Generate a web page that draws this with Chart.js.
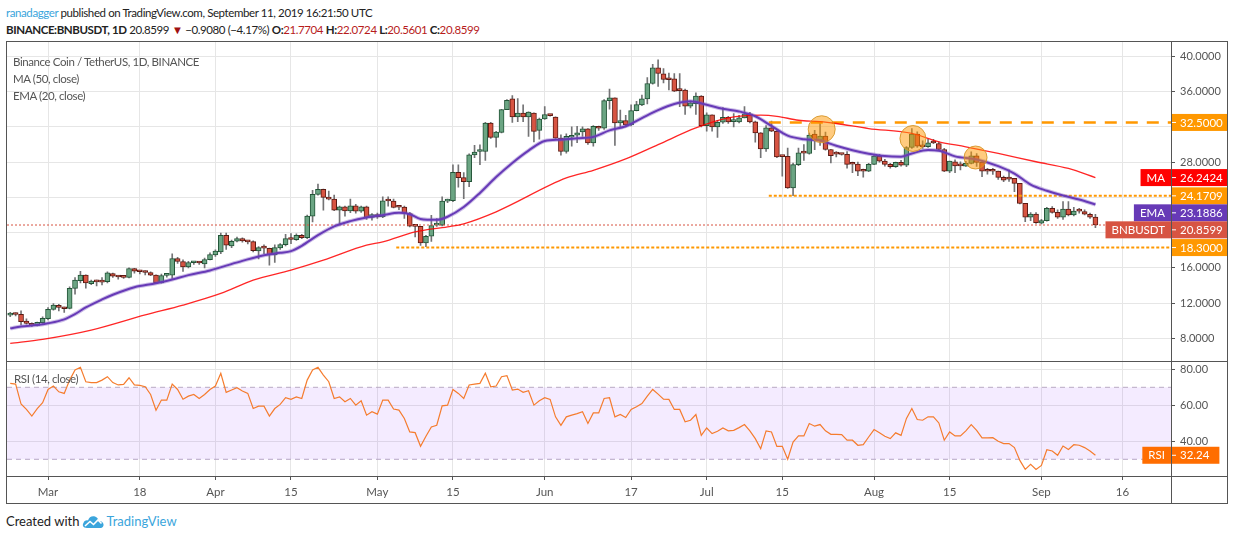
<!DOCTYPE html>
<html>
<head>
<meta charset="utf-8">
<script src="https://cdn.jsdelivr.net/npm/chart.js@4.4.0/dist/chart.umd.min.js"></script>
<style>
  html, body { margin: 0; padding: 0; background: #fff; }
  body { width: 1234px; height: 540px; position: relative; overflow: hidden; font-family: Lato, "Noto Sans", sans-serif; }
  .narrow { font-size: 11.5px !important; letter-spacing: -0.4px; }
  .line { position: absolute; left: 6px; font-size: 13px; line-height: 17px; white-space: nowrap; color: #222; }
  .user { color: #3ba5dc; }
  .red { color: #b71c1c; }
  .tri { color: #a01010; }
  .frame { position: absolute; left: 6px; top: 41px; width: 1220px; height: 461px; border: 1px solid #555; }
  .frame canvas { position: absolute; left: 0; top: 0; }
  .legend { position: absolute; left: 6px; line-height: 17px; color: #555; white-space: nowrap; }
  .tv { color: #3ba5dc; }
  .logo { display: inline-block; vertical-align: -3px; margin: 0 1px 0 2px; }
</style>
</head>
<body>
<div class="line narrow" style="top:4px"><span class="user">ranadagger</span> published on TradingView.com, September 11, 2019 16:21:50 UTC</div>
<div class="line narrow" style="top:21px"><b>BINANCE:BNBUSDT, 1D</b> 20.8599 <span class="tri">&#9660;</span> &minus;0.9080 (&minus;4.17%) <b>O:</b><span class="red">21.7704</span> <b>H:</b><span class="red">22.0724</span> <b>L:</b><span class="red">20.5601</span> <b>C:</b><span class="red">20.8599</span></div>

<div class="frame">
  <canvas id="chart" width="1220" height="461"></canvas>
  <div class="legend narrow" style="top:11px">Binance Coin / TetherUS, 1D, BINANCE</div>
  <div class="legend narrow" style="top:28px">MA (50, close)</div>
  <div class="legend narrow" style="top:45px">EMA (20, close)</div>
  <div class="legend narrow" style="top:328px;left:7px">RSI (14, close)</div>
</div>

<div class="line" style="top:513px">Created with<svg class="logo" width="24" height="15" viewBox="0 0 24 15"><path d="M6 14 C2 14 1 11 2.5 9 C3 7 5 6 7 6.5 C8 3 11 1.5 14 2.5 C16 3 17.5 5 17.5 7 C20 6.5 23 8.5 22.5 11.5 C22 13.5 20.5 14 19 14 Z" fill="#3ba5dc"/><path d="M4 12 L9 7.5 L12.5 10.5 L17 6 L20.5 9.5" stroke="#fff" stroke-width="1.6" fill="none"/></svg><span class="tv">TradingView</span></div>

<script>
// days are counted from 1 March 2019, first candle is 22 Feb
const firstDay = -7;

const openPx = [
  10.64, 10.75, 10.72, 9.96, 9.70, 9.47, 9.77, 10.23, 11.28, 11.74,
  11.51, 11.40, 13.66, 14.53, 15.17, 14.19, 14.45, 14.45, 14.42, 15.36,
  15.00, 14.93, 14.91, 15.92, 15.58, 15.50, 15.47, 15.17, 14.30, 15.15,
  15.17, 17.06, 16.72, 16.11, 16.58, 16.58, 16.45, 16.94, 17.47, 17.81,
  19.70, 18.49, 19.02, 19.32, 18.98, 18.98, 17.92, 18.26, 18.20, 17.47,
  18.26, 18.64, 19.28, 19.20, 19.70, 19.43, 21.86, 24.33, 24.90, 23.99,
  23.80, 22.55, 22.93, 22.47, 23.04, 22.43, 22.93, 21.71, 22.05, 21.79,
  23.61, 23.58, 22.90, 22.90, 22.17, 20.72, 20.72, 18.82, 19.58, 20.85,
  20.84, 23.57, 23.61, 26.84, 26.24, 25.78, 28.82, 29.20, 29.20, 32.43,
  30.80, 31.37, 33.95, 35.17, 33.12, 33.57, 33.12, 33.57, 31.60, 32.89,
  33.30, 33.12, 30.72, 29.20, 30.82, 31.05, 31.42, 31.77, 30.17, 32.07,
  31.84, 34.98, 35.29, 32.45, 32.71, 32.22, 33.85, 34.49, 35.17, 36.92,
  38.70, 38.02, 37.37, 37.45, 36.16, 36.16, 34.34, 34.64, 35.48, 32.14,
  33.36, 31.99, 32.52, 33.09, 32.60, 32.56, 33.02, 33.47, 32.56, 31.31,
  29.49, 31.88, 31.50, 28.66, 28.66, 25.06, 27.71, 29.04, 28.98, 31.17,
  30.49, 30.94, 29.43, 28.92, 28.88, 28.87, 27.78, 27.78, 26.98, 26.98,
  27.74, 28.68, 28.11, 27.74, 27.47, 27.96, 27.66, 29.66, 31.17, 29.74,
  29.74, 30.19, 30.11, 29.43, 26.98, 28.04, 27.60, 27.55, 27.85, 28.72,
  27.96, 26.98, 26.98, 26.98, 26.26, 26.10, 26.15, 25.58, 23.32, 21.74,
  22.11, 21.06, 21.36, 22.75, 22.30, 21.74, 22.68, 22.00, 22.45, 22.38,
  22.08, 21.7704
];
const highPx = [
  10.95, 10.90, 11.13, 10.20, 9.75, 9.85, 10.45, 11.50, 11.95, 11.85,
  11.55, 13.85, 14.90, 15.60, 15.20, 14.60, 14.60, 14.90, 15.55, 15.40,
  15.10, 15.00, 16.00, 15.95, 15.70, 15.65, 15.55, 15.20, 15.30, 15.30,
  17.60, 17.20, 16.90, 16.75, 16.75, 16.70, 17.10, 17.70, 18.05, 19.95,
  19.95, 19.15, 19.50, 19.40, 19.10, 19.05, 18.40, 18.60, 18.25, 18.60,
  18.75, 19.80, 19.90, 19.85, 19.80, 21.98, 24.80, 25.50, 24.95, 24.70,
  24.25, 23.00, 23.00, 23.80, 23.20, 23.00, 23.00, 22.15, 22.20, 24.05,
  24.05, 23.80, 23.05, 23.00, 22.30, 20.75, 20.72, 19.70, 21.95, 21.60,
  24.05, 23.80, 27.70, 27.70, 26.80, 28.95, 29.90, 29.95, 32.50, 32.50,
  31.50, 34.00, 35.10, 35.55, 35.20, 34.50, 33.70, 33.60, 33.00, 34.30,
  33.40, 33.15, 31.10, 31.20, 32.00, 32.05, 32.00, 31.80, 32.15, 32.10,
  35.10, 36.30, 35.30, 33.90, 33.30, 34.50, 34.90, 35.60, 37.60, 39.10,
  39.60, 38.60, 38.10, 38.05, 38.05, 36.30, 34.90, 35.85, 35.55, 33.60,
  33.36, 32.75, 34.20, 33.20, 33.50, 33.30, 34.30, 33.66, 32.65, 31.35,
  32.14, 32.65, 31.60, 28.70, 29.60, 27.90, 29.60, 29.98, 31.30, 31.60,
  32.50, 31.40, 29.45, 29.20, 28.95, 29.20, 28.00, 28.00, 27.20, 27.85,
  28.80, 28.87, 28.30, 27.85, 28.00, 28.20, 29.75, 31.80, 31.43, 30.40,
  30.57, 30.57, 30.30, 29.55, 28.11, 28.26, 28.04, 28.10, 29.17, 28.98,
  28.00, 27.28, 27.28, 26.98, 26.40, 27.13, 26.15, 25.58, 23.32, 22.26,
  22.26, 21.51, 22.87, 22.94, 22.57, 23.51, 23.51, 22.87, 22.75, 22.57,
  22.20, 22.0724
];
const lowPx = [
  10.45, 10.55, 9.51, 9.60, 9.35, 9.40, 9.70, 10.10, 11.20, 11.10,
  10.95, 11.35, 13.00, 14.30, 13.70, 14.10, 13.95, 14.05, 14.30, 14.90,
  14.70, 14.80, 14.85, 15.40, 15.30, 15.20, 15.10, 14.20, 14.25, 14.95,
  14.80, 16.50, 15.60, 16.00, 16.40, 16.40, 16.00, 16.90, 17.30, 17.60,
  18.10, 18.30, 18.95, 18.90, 18.70, 17.80, 17.00, 17.60, 16.30, 16.60,
  18.10, 18.50, 18.75, 19.10, 19.30, 19.30, 21.20, 24.25, 22.55, 23.70,
  22.50, 21.00, 21.85, 22.25, 22.20, 22.30, 21.50, 21.40, 21.60, 21.70,
  23.00, 22.80, 22.60, 21.60, 20.65, 19.50, 18.55, 18.40, 19.00, 20.70,
  20.75, 23.40, 23.50, 25.15, 23.85, 25.20, 28.50, 27.70, 28.20, 30.70,
  29.70, 31.30, 33.95, 32.50, 32.60, 32.60, 30.90, 30.30, 30.60, 32.85,
  33.20, 30.70, 28.80, 29.00, 29.80, 30.20, 30.90, 30.00, 29.80, 31.60,
  31.70, 34.00, 29.90, 31.90, 32.00, 32.10, 33.80, 34.40, 34.60, 36.85,
  36.60, 37.00, 36.20, 36.00, 34.30, 33.40, 34.15, 33.40, 32.00, 31.50,
  31.50, 30.80, 32.40, 32.40, 32.00, 32.45, 33.00, 32.45, 30.26, 28.50,
  29.20, 31.45, 28.50, 26.40, 25.00, 24.20, 27.60, 28.20, 28.90, 29.40,
  29.90, 29.36, 27.90, 28.60, 28.80, 27.30, 26.80, 26.45, 26.30, 26.90,
  27.70, 28.00, 27.55, 27.30, 27.40, 27.55, 27.47, 29.55, 29.66, 29.55,
  29.66, 30.10, 29.36, 26.90, 26.80, 26.80, 27.10, 27.50, 27.80, 27.50,
  26.34, 26.64, 26.60, 26.04, 25.77, 25.80, 24.64, 23.25, 21.25, 21.36,
  21.05, 20.98, 21.30, 22.20, 21.60, 21.50, 21.90, 21.90, 22.20, 22.00,
  21.60, 20.5601
];
const closePx = [
  10.72, 10.70, 9.89, 9.70, 9.47, 9.81, 10.26, 11.28, 11.77, 11.51,
  11.36, 13.66, 14.60, 15.17, 14.30, 14.49, 14.40, 14.38, 15.43, 15.06,
  14.96, 14.91, 15.92, 15.62, 15.55, 15.47, 15.17, 14.30, 15.13, 15.17,
  17.06, 16.72, 16.11, 16.60, 16.60, 16.55, 16.94, 17.51, 17.89, 19.70,
  18.57, 19.02, 19.32, 19.06, 18.95, 17.96, 18.30, 18.24, 17.47, 18.30,
  18.64, 19.32, 19.22, 19.70, 19.43, 21.86, 24.33, 24.90, 23.99, 23.80,
  22.55, 22.93, 22.47, 23.04, 22.43, 22.93, 21.71, 22.05, 21.79, 23.61,
  23.58, 22.85, 22.88, 22.17, 20.72, 20.70, 18.82, 19.58, 20.80, 20.91,
  23.57, 23.61, 26.84, 26.24, 25.78, 28.82, 29.13, 29.24, 32.43, 30.80,
  31.41, 33.95, 35.02, 33.12, 33.57, 33.12, 33.69, 31.48, 32.89, 33.38,
  33.28, 30.72, 29.20, 30.91, 31.05, 31.31, 31.77, 30.17, 32.07, 31.84,
  34.98, 35.29, 32.45, 32.71, 32.22, 33.85, 34.53, 35.17, 36.92, 38.70,
  38.05, 37.37, 37.35, 36.05, 36.12, 34.34, 34.72, 35.48, 32.14, 33.36,
  31.99, 32.52, 33.09, 32.56, 32.63, 33.02, 33.47, 32.56, 31.31, 29.49,
  31.88, 31.50, 28.58, 28.62, 25.06, 27.71, 29.04, 29.02, 31.06, 30.49,
  30.94, 29.43, 28.72, 28.90, 28.86, 27.74, 27.76, 26.98, 26.96, 27.74,
  28.68, 28.11, 27.74, 27.47, 27.96, 27.66, 29.66, 31.17, 29.81, 29.72,
  30.19, 30.17, 29.43, 26.98, 28.11, 27.58, 27.58, 27.85, 28.72, 27.96,
  26.98, 26.96, 26.96, 26.26, 25.96, 26.06, 25.58, 23.32, 21.74, 22.11,
  21.13, 21.36, 22.75, 22.30, 21.74, 22.68, 22.00, 22.45, 22.43, 22.08,
  21.74, 20.8599
];

// MA(50) and EMA(20) at these days
const maDays = [-7, -1, 8, 18, 25, 32, 38, 45, 51, 59, 62, 68, 74, 77, 83, 96, 101, 107, 113, 120, 126, 132, 135, 139, 143, 146, 152, 160, 165, 170, 176, 183, 189, 194];
const maValues = [7.43, 7.89, 8.94, 10.66, 11.77, 13.09, 14.6, 15.74, 16.87, 18.57, 18.94, 20.08, 20.65, 21.0, 22.36, 26.2, 27.07, 28.36, 29.98, 31.88, 33.02, 33.32, 33.2, 32.75, 32.6, 32.38, 31.81, 31.25, 30.3, 29.74, 28.98, 28.04, 27.28, 26.2424];
const emaDays = [-7, -5, -2, 0, 3, 5, 7, 10, 12, 16, 20, 23, 26, 30, 33, 36, 40, 43, 45, 47, 50, 53, 56, 59, 62, 65, 67, 69, 72, 74, 77, 80, 83, 86, 89, 92, 95, 98, 101, 104, 107, 110, 113, 116, 119, 122, 125, 128, 131, 134, 137, 140, 143, 146, 149, 152, 155, 158, 160, 163, 165, 168, 172, 176, 179, 182, 185, 188, 191, 194];
const emaValues = [9.13, 9.35, 9.51, 9.70, 10.15, 10.75, 11.5, 12.41, 12.95, 13.8, 14.25, 14.68, 15.17, 15.7, 16.25, 16.79, 17.43, 17.7, 17.9, 18.5, 19.7, 20.7, 21.3, 21.71, 21.98, 22.24, 22.09, 21.55, 21.45, 21.8, 22.9, 24.5, 26.3, 27.9, 29.3, 30.4, 30.55, 30.7, 30.86, 31.6, 32.07, 33.0, 33.9, 34.6, 34.9, 34.5, 34.05, 33.75, 33.2, 32.1, 31.0, 30.6, 30.45, 29.85, 29.35, 28.95, 28.68, 28.62, 28.98, 29.36, 29.3, 28.65, 28.3, 27.55, 26.7, 25.45, 24.75, 24.2, 23.75, 23.1886];

// RSI(14), one value per candle
const rsiValues = [
  72.2, 71.8, 60.7, 57.7, 54.0, 58.2, 61.4,
  68.8, 70.7, 67.5, 66.6, 74.0, 79.6, 81.1, 73.1, 72.6, 72.6,
  74.0, 75.9, 72.6, 71.3, 71.6, 75.3, 71.3, 71.1, 70.3, 66.0,
  57.3, 62.9, 62.9, 71.8, 68.8, 63.4, 65.1, 66.0, 63.8, 66.0,
  68.8, 70.7, 77.8, 67.2, 68.5, 69.8, 67.9, 66.6, 58.2, 59.5,
  59.5, 54.0, 58.2, 60.5, 64.2, 63.3, 64.7, 63.8, 74.0, 79.6,
  81.1, 76.8, 73.1, 63.8, 64.7, 62.0, 63.8, 60.1, 62.5, 54.5,
  56.4, 55.1, 62.9, 62.9, 57.9, 57.3, 52.7, 45.2, 44.8, 37.2,
  42.8, 48.0, 48.9, 59.7, 60.1, 68.8, 66.6, 63.8, 71.3, 71.8,
  72.2, 77.8, 70.3, 70.7, 75.9, 76.5, 68.5, 69.0, 67.2, 68.1,
  60.1, 62.5, 64.2, 63.3, 53.6,
  48.9, 53.6, 54.5, 55.4, 56.4,
  49.9, 55.8, 55.8, 63.8, 64.2, 53.6, 54.9, 53.2, 57.7, 59.2,
  61.0, 65.1, 68.8, 66.2, 63.4, 63.3, 57.7, 57.7, 50.8, 51.7,
  54.9, 43.3, 47.4, 44.3, 45.6, 47.4, 45.8, 46.1, 47.6, 49.3,
  45.8, 41.5, 35.9, 45.8, 45.2, 37.2, 37.2, 30.0, 39.6, 43.0,
  43.0, 49.9, 48.4, 49.3, 45.8, 43.9, 43.9, 43.7, 40.6, 40.6,
  37.8, 38.1, 42.4, 46.5, 44.7, 42.8, 41.5, 44.7, 43.3, 52.7,
  58.2, 52.1, 51.7, 53.6, 53.6, 50.2, 40.6, 45.2, 43.0, 43.0,
  45.8, 49.3, 46.1, 41.9, 41.9, 42.0, 40.0, 38.7, 38.7, 36.5,
  29.4, 24.4, 27.2, 24.4, 26.6, 35.3, 34.6, 32.2, 37.4, 35.5,
  38.1, 37.8, 36.5, 34.6, 32.24
];
const rsiLevels = [70, 30];

// drawn support / resistance lines and the marked tops
const levelValues = [32.5, 24.1709, 18.3];
const levelFromDays = [133.5, 133.5, 64.5];
const markDays = [143.3, 160.2, 171.8];
const markPrices = [31.73, 30.68, 28.52];

const tickDays = [0, 17, 31, 45, 61, 75, 92, 108, 122, 136, 153, 167, 184, 199];
const tickLabels = ['Mar', '18', 'Apr', '15', 'May', '15', 'Jun', '17', 'Jul', '15', 'Aug', '15', 'Sep', '16'];
const priceTicks = [8, 12, 16, 20, 24, 28, 32, 36, 40];
const rsiTicks = [40, 60, 80];

const xMin = -7.6, xMax = 208;
const UP = '#6ba583', DOWN = '#d75442', UP_EDGE = '#225437', DOWN_EDGE = '#5b1a13';
const FONT = 'Lato, "Noto Sans", sans-serif';

const days = openPx.map((_, i) => firstDay + i);
const isUp = days.map((_, i) => closePx[i] >= openPx[i]);
const lastClose = closePx[closePx.length - 1];

const priceBadges = [
  { name: '', value: levelValues[0], color: '#ff9800' },
  { name: 'MA', value: maValues[maValues.length - 1], color: '#ff0000' },
  { name: '', value: levelValues[1], color: '#ff9800' },
  { name: 'EMA', value: emaValues[emaValues.length - 1], color: '#673ab7' },
  { name: 'BNBUSDT', value: lastClose, color: '#d75442' },
  { name: '', value: levelValues[2], color: '#ff9800' }
];
const rsiBadge = { name: 'RSI', value: rsiValues[rsiValues.length - 1], color: '#ff6d00' };

function hline(value, from, opts) {
  return Object.assign({
    type: 'line',
    data: [{ x: from, y: value }, { x: xMax, y: value }],
    pointRadius: 0,
    borderWidth: 1,
    yAxisID: 'y',
    order: 3
  }, opts);
}

function drawBadge(ctx, axisX, top, h, b, digits) {
  const txt = b.value.toFixed(digits);
  const tw = ctx.measureText(txt).width;
  const bw = Math.min(55, tw + 18);
  ctx.fillStyle = b.color;
  ctx.fillRect(axisX + 1, top, bw, h);
  ctx.fillStyle = '#fff';
  ctx.fillRect(axisX + 1, top + h / 2 - 0.5, 4, 1);
  ctx.textAlign = 'left';
  ctx.fillText(txt, axisX + 9, top + h / 2 + 0.5);
  if (b.name) {
    const nw = ctx.measureText(b.name).width + 12;
    ctx.fillStyle = b.color;
    ctx.fillRect(axisX - nw, top, nw, h);
    ctx.fillStyle = '#fff';
    ctx.textAlign = 'center';
    ctx.fillText(b.name, axisX - nw / 2, top + h / 2 + 0.5);
  }
}

const panes = {
  id: 'panes',
  afterDraw(chart) {
    const ctx = chart.ctx, a = chart.chartArea;
    const rsiScale = chart.scales.rsi, yScale = chart.scales.y;
    ctx.save();
    ctx.strokeStyle = '#555';
    ctx.lineWidth = 1;
    ctx.beginPath();
    ctx.moveTo(0, Math.round(rsiScale.top) + 0.5);
    ctx.lineTo(chart.width, Math.round(rsiScale.top) + 0.5);
    ctx.moveTo(0, Math.round(a.bottom) + 0.5);
    ctx.lineTo(chart.width, Math.round(a.bottom) + 0.5);
    ctx.moveTo(Math.round(a.right) + 0.5, 0);
    ctx.lineTo(Math.round(a.right) + 0.5, chart.height);
    ctx.stroke();

    ctx.font = '11.5px ' + FONT;
    ctx.textBaseline = 'middle';
    const h = 17;
    const list = priceBadges.map(b => Object.assign({ py: yScale.getPixelForValue(b.value) }, b));
    list.sort((p, q) => p.py - q.py);
    let prevBottom = -1e9;
    list.forEach(b => {
      let top = b.py - h / 2;
      if (top < prevBottom) top = prevBottom;
      prevBottom = top + h;
      drawBadge(ctx, a.right, top, h, b, 4);
    });
    drawBadge(ctx, a.right, rsiScale.getPixelForValue(rsiBadge.value) - h / 2, h, rsiBadge, 2);
    ctx.restore();
  }
};

Chart.defaults.font.family = FONT;
Chart.defaults.font.size = 11;
Chart.defaults.color = '#4a4a4a';

new Chart(document.getElementById('chart'), {
  type: 'bar',
  data: {
    datasets: [
      {
        type: 'bar',
        data: days.map((d, i) => ({ x: d, y: [lowPx[i], highPx[i]] })),
        backgroundColor: '#737375',
        barThickness: 1,
        grouped: false,
        yAxisID: 'y',
        order: 6
      },
      {
        type: 'bar',
        data: days.map((d, i) => ({ x: d, y: [openPx[i], closePx[i]] })),
        backgroundColor: isUp.map(u => u ? UP : DOWN),
        borderColor: isUp.map(u => u ? UP_EDGE : DOWN_EDGE),
        borderWidth: 1,
        borderSkipped: false,
        barThickness: 5,
        minBarLength: 2,
        grouped: false,
        yAxisID: 'y',
        order: 5
      },
      hline(lastClose, xMin, { borderColor: '#d75442', borderDash: [2, 2] }),
      hline(levelValues[0], levelFromDays[0], { borderColor: '#ff9800', borderWidth: 2.5, borderDash: [12, 9] }),
      hline(levelValues[1], levelFromDays[1], { borderColor: '#ff9800', borderWidth: 2, borderDash: [3, 2] }),
      hline(levelValues[2], levelFromDays[2], { borderColor: '#ff9800', borderWidth: 2, borderDash: [3, 2] }),
      {
        type: 'line',
        data: maDays.map((d, i) => ({ x: d, y: maValues[i] })),
        borderColor: 'rgba(255, 0, 0, 0.85)',
        borderWidth: 1.3,
        pointRadius: 0,
        cubicInterpolationMode: 'monotone',
        yAxisID: 'y',
        order: 2
      },
      {
        type: 'line',
        data: emaDays.map((d, i) => ({ x: d, y: emaValues[i] })),
        borderColor: 'rgba(126, 87, 194, 0.4)',
        borderWidth: 4,
        pointRadius: 0,
        cubicInterpolationMode: 'monotone',
        yAxisID: 'y',
        order: 2
      },
      {
        type: 'line',
        data: emaDays.map((d, i) => ({ x: d, y: emaValues[i] })),
        borderColor: '#673ab7',
        borderWidth: 2,
        pointRadius: 0,
        cubicInterpolationMode: 'monotone',
        yAxisID: 'y',
        order: 1
      },
      {
        type: 'line',
        data: markDays.map((d, i) => ({ x: d, y: markPrices[i] })),
        showLine: false,
        pointRadius: [13.5, 13, 11.5],
        pointBackgroundColor: 'rgba(255, 152, 0, 0.5)',
        pointBorderColor: 'rgba(214, 150, 40, 0.9)',
        pointBorderWidth: 1,
        yAxisID: 'y',
        order: 0
      },
      {
        type: 'line',
        data: [{ x: xMin, y: rsiLevels[0] }, { x: xMax, y: rsiLevels[0] }],
        borderColor: '#b8aac4',
        borderWidth: 1,
        borderDash: [5, 4],
        pointRadius: 0,
        fill: { value: rsiLevels[1] },
        backgroundColor: 'rgba(152, 60, 255, 0.1)',
        yAxisID: 'rsi',
        order: 4
      },
      {
        type: 'line',
        data: [{ x: xMin, y: rsiLevels[1] }, { x: xMax, y: rsiLevels[1] }],
        borderColor: '#b8aac4',
        borderWidth: 1,
        borderDash: [5, 4],
        pointRadius: 0,
        yAxisID: 'rsi',
        order: 4
      },
      {
        type: 'line',
        data: days.map((d, i) => ({ x: d, y: rsiValues[i] })),
        borderColor: '#f57c2e',
        borderWidth: 1.2,
        pointRadius: 0,
        yAxisID: 'rsi',
        order: 1
      }
    ]
  },
  options: {
    responsive: false,
    animation: false,
    layout: { padding: 0, autoPadding: false },
    plugins: { legend: { display: false }, tooltip: { enabled: false } },
    scales: {
      x: {
        type: 'linear',
        min: xMin,
        max: xMax,
        offset: false,
        grid: { offset: false, color: '#e6e6e6', tickColor: '#555', tickLength: 4 },
        border: { color: '#555' },
        afterBuildTicks: s => { s.ticks = tickDays.map(v => ({ value: v })); },
        afterFit: s => { s.height = 27; s.paddingLeft = 0; s.paddingRight = 0; },
        ticks: {
          autoSkip: false,
          maxRotation: 0,
          padding: 5,
          color: '#555',
          font: { size: 11.5 },
          callback: v => tickLabels[tickDays.indexOf(v)]
        }
      },
      y: {
        type: 'linear',
        position: 'right',
        stack: 'panes',
        stackWeight: 2.764,
        min: 5.46,
        max: 41.63,
        grid: { color: '#e6e6e6', tickColor: '#555', tickLength: 4 },
        border: { color: '#555' },
        afterBuildTicks: s => { s.ticks = priceTicks.map(v => ({ value: v })); },
        afterFit: s => { s.width = 56; s.paddingTop = 0; s.paddingBottom = 0; },
        ticks: {
          padding: 5,
          color: '#555',
          callback: v => priceBadges.some(b => Math.abs(b.value - v) < 1.5) ? '' : v.toFixed(4)
        }
      },
      rsi: {
        type: 'linear',
        position: 'right',
        stack: 'panes',
        stackWeight: 1,
        min: 20.72,
        max: 84.78,
        grid: { color: '#e6e6e6', tickColor: '#555', tickLength: 4 },
        border: { color: '#555' },
        afterBuildTicks: s => { s.ticks = rsiTicks.map(v => ({ value: v })); },
        afterFit: s => { s.width = 56; s.paddingTop = 0; s.paddingBottom = 0; },
        ticks: {
          padding: 5,
          color: '#555',
          callback: v => v.toFixed(2)
        }
      }
    }
  },
  plugins: [panes]
});
</script>
</body>
</html>
